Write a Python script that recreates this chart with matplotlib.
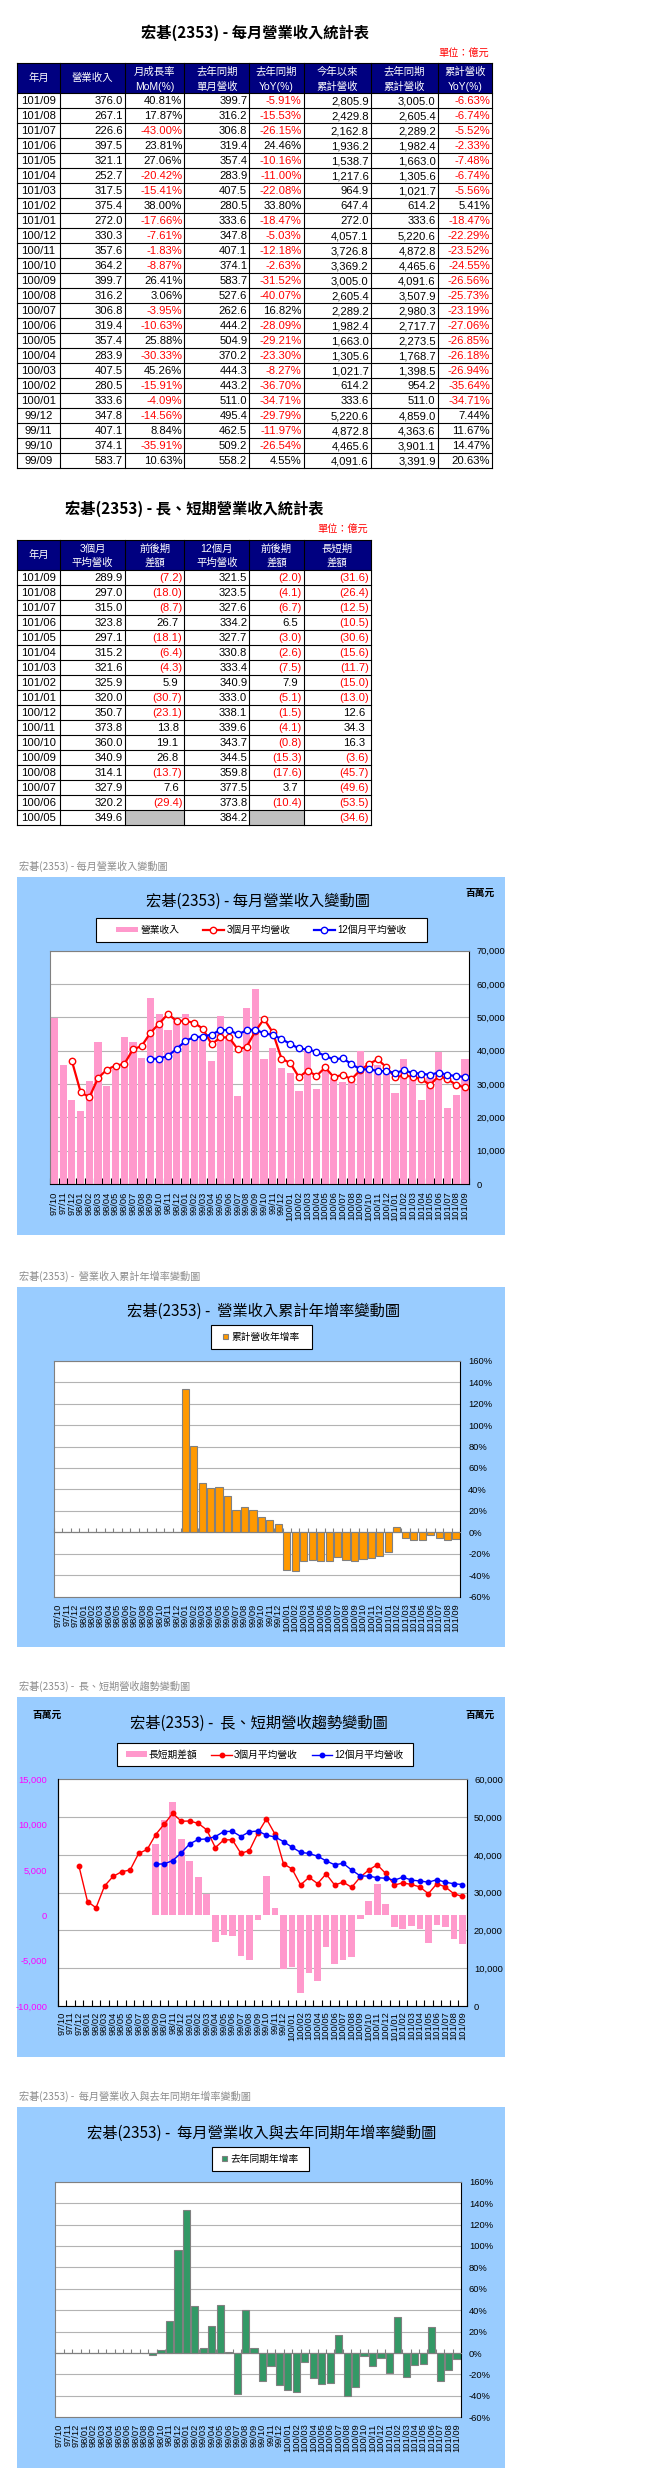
import numpy as np
import matplotlib
matplotlib.use('Agg')
import matplotlib.pyplot as plt
from matplotlib.patches import Rectangle
from matplotlib.ticker import FuncFormatter, MultipleLocator
from matplotlib import font_manager as fm

W, H = 655, 2491

# 字型：數字用窄體，中文退回 Noto Sans CJK TC
_fonts = {f.name for f in fm.fontManager.ttflist}
NARROW = 'Liberation Sans Narrow' if 'Liberation Sans Narrow' in _fonts else 'Liberation Sans'
NS = 1.0 if NARROW == 'Liberation Sans Narrow' else 0.9
XT = 8 if NARROW == 'Liberation Sans Narrow' else 6.7     # 類別軸標籤字級
CJK = 'Noto Sans CJK TC'
FAM = [NARROW, CJK, 'DejaVu Sans']
FAM_CJK = [CJK, 'DejaVu Sans']
plt.rcParams['font.family'] = FAM
plt.rcParams['axes.unicode_minus'] = False

# ---------------- 資料 ----------------
months = [f'{97 + (9 + k) // 12}/{(9 + k) % 12 + 1:02d}' for k in range(48)]   # 97/10 ~ 101/09

# 每月營業收入 (億元) 97/10 ~ 101/09
rev = [499.0, 357.0, 253.0, 219.0, 308.0, 426.0, 295.0, 345.0, 440.0, 426.0, 377.0,
       558.2, 509.2, 462.5, 495.4,
       511.0, 443.2, 444.3, 370.2, 504.9, 444.2, 262.6, 527.6, 583.7, 374.1, 407.1, 347.8,
       333.6, 280.5, 407.5, 283.9, 357.4, 319.4, 306.8, 316.2, 399.7, 364.2, 357.6, 330.3,
       272.0, 375.4, 317.5, 252.7, 321.1, 397.5, 226.6, 267.1, 376.0]

# 3個月平均營收 (億元) 97/12 起
avg3 = [369.7, 276.3, 260.0, 317.7, 343.0, 355.3, 360.0, 403.7, 414.3, 453.7, 481.5,
        510.0, 489.0,
        489.6, 483.2, 466.2, 419.2, 439.8, 439.8, 403.9, 411.5, 458.0, 495.1, 455.0, 376.3,
        362.8, 320.6, 340.5, 324.0, 349.6, 320.2, 327.9, 314.1, 340.9, 360.0, 373.8, 350.7,
        320.0, 325.9, 321.6, 315.2, 297.1, 323.8, 315.0, 297.0, 289.9]

# 12個月平均營收 (億元) 98/09 起
avg12 = [375.3, 376.1, 384.9, 405.1,
         429.4, 440.7, 442.2, 448.5, 461.8, 462.2, 448.6, 461.1, 463.2, 452.0, 447.4, 435.1,
         420.3, 406.7, 403.7, 396.5, 384.2, 373.8, 377.5, 359.8, 344.5, 343.7, 339.6, 338.1,
         333.0, 340.9, 333.4, 330.8, 327.7, 334.2, 327.6, 323.5, 321.5]

# 長短期差額 (億元) 98/09 起
ls_diff = [78.4, 105.4, 125.1, 83.9,
           60.2, 42.5, 24.0, -29.3, -22.0, -22.4, -44.7, -49.6, -5.2, 43.1, 7.6, -58.8,
           -57.5, -86.1, -63.2, -72.5, -34.6, -53.5, -49.6, -45.7, -3.6, 16.3, 34.3, 12.6,
           -13.0, -15.0, -11.7, -15.6, -30.6, -10.5, -12.5, -26.4, -31.6]

# 累計營收年增率 (%)
cum_yoy = [0] * 15 + [
    133.5, 80.8, 46.3, 41.3, 42.6, 33.6, 21.1, 23.3, 20.63, 14.47, 11.67, 7.44,
    -34.71, -35.64, -26.94, -26.18, -26.85, -27.06, -23.19, -25.73, -26.56, -24.55, -23.52, -22.29,
    -18.47, 5.41, -5.56, -6.74, -7.48, -2.33, -5.52, -6.74, -6.63]

# 去年同期年增率 (%)
yoy = [0] * 11 + [
    -1.5, 2.8, 29.9, 96.0,
    133.3, 43.9, 4.7, 25.5, 44.8, 1.2, -38.3, 40.1, 4.55, -26.54, -11.97, -29.79,
    -34.71, -36.70, -8.27, -23.30, -29.21, -28.09, 16.82, -40.07, -31.52, -2.63, -12.18, -5.03,
    -18.47, 33.80, -22.08, -11.00, -10.16, 24.46, -26.15, -15.53, -5.91]

# 表一：每月營業收入統計表
t1_month = ['101/09', '101/08', '101/07', '101/06', '101/05', '101/04', '101/03', '101/02', '101/01',
            '100/12', '100/11', '100/10', '100/09', '100/08', '100/07', '100/06', '100/05', '100/04',
            '100/03', '100/02', '100/01', '99/12', '99/11', '99/10', '99/09']
t1_rev = [376.0, 267.1, 226.6, 397.5, 321.1, 252.7, 317.5, 375.4, 272.0, 330.3, 357.6, 364.2, 399.7,
          316.2, 306.8, 319.4, 357.4, 283.9, 407.5, 280.5, 333.6, 347.8, 407.1, 374.1, 583.7]
t1_mom = [40.81, 17.87, -43.00, 23.81, 27.06, -20.42, -15.41, 38.00, -17.66, -7.61, -1.83, -8.87, 26.41,
          3.06, -3.95, -10.63, 25.88, -30.33, 45.26, -15.91, -4.09, -14.56, 8.84, -35.91, 10.63]
t1_prev = [399.7, 316.2, 306.8, 319.4, 357.4, 283.9, 407.5, 280.5, 333.6, 347.8, 407.1, 374.1, 583.7,
           527.6, 262.6, 444.2, 504.9, 370.2, 444.3, 443.2, 511.0, 495.4, 462.5, 509.2, 558.2]
t1_yoy = [-5.91, -15.53, -26.15, 24.46, -10.16, -11.00, -22.08, 33.80, -18.47, -5.03, -12.18, -2.63, -31.52,
          -40.07, 16.82, -28.09, -29.21, -23.30, -8.27, -36.70, -34.71, -29.79, -11.97, -26.54, 4.55]
t1_cum = [2805.9, 2429.8, 2162.8, 1936.2, 1538.7, 1217.6, 964.9, 647.4, 272.0, 4057.1, 3726.8, 3369.2,
          3005.0, 2605.4, 2289.2, 1982.4, 1663.0, 1305.6, 1021.7, 614.2, 333.6, 5220.6, 4872.8, 4465.6, 4091.6]
t1_prev_cum = [3005.0, 2605.4, 2289.2, 1982.4, 1663.0, 1305.6, 1021.7, 614.2, 333.6, 5220.6, 4872.8, 4465.6,
               4091.6, 3507.9, 2980.3, 2717.7, 2273.5, 1768.7, 1398.5, 954.2, 511.0, 4859.0, 4363.6, 3901.1, 3391.9]
t1_cum_yoy = [-6.63, -6.74, -5.52, -2.33, -7.48, -6.74, -5.56, 5.41, -18.47, -22.29, -23.52, -24.55, -26.56,
              -25.73, -23.19, -27.06, -26.85, -26.18, -26.94, -35.64, -34.71, 7.44, 11.67, 14.47, 20.63]

# 表二：長、短期營業收入統計表
t2_month = t1_month[:17]
t2_avg3 = [289.9, 297.0, 315.0, 323.8, 297.1, 315.2, 321.6, 325.9, 320.0, 350.7, 373.8, 360.0, 340.9,
           314.1, 327.9, 320.2, 349.6]
t2_d3 = [-7.2, -18.0, -8.7, 26.7, -18.1, -6.4, -4.3, 5.9, -30.7, -23.1, 13.8, 19.1, 26.8, -13.7, 7.6, -29.4, None]
t2_avg12 = [321.5, 323.5, 327.6, 334.2, 327.7, 330.8, 333.4, 340.9, 333.0, 338.1, 339.6, 343.7, 344.5,
            359.8, 377.5, 373.8, 384.2]
t2_d12 = [-2.0, -4.1, -6.7, 6.5, -3.0, -2.6, -7.5, 7.9, -5.1, -1.5, -4.1, -0.8, -15.3, -17.6, 3.7, -10.4, None]
t2_ls = [-31.6, -26.4, -12.5, -10.5, -30.6, -15.6, -11.7, -15.0, -13.0, 12.6, 34.3, 16.3, -3.6, -45.7,
         -49.6, -53.5, -34.6]

# ---------------- 樣式 ----------------
NAVY = '#000080'
SKY = '#99CCFF'
PINK = '#FF99CC'
GRID = '#B3B3B3'
CAP_GRAY = '#8C8C8C'

fig = plt.figure(figsize=(W / 100, H / 100), dpi=100)
cv = fig.add_axes([0, 0, 1, 1])
cv.set_xlim(0, W)
cv.set_ylim(H, 0)
cv.axis('off')


def box(x0, y0, x1, y1):
    return [x0 / W, 1 - y1 / H, (x1 - x0) / W, (y1 - y0) / H]


def pct(v):
    return (f'{v:.2f}%', 'red' if v < 0 else 'black', 'r')


def num(v):
    return (f'{v:,.1f}', 'black', 'r')


def paren(v):
    if v is None:
        return None
    if v < 0:
        return ('(%.1f)' % -v, 'red', 'r')
    return (f'{v:,.1f}', 'black', 'p')


def draw_table(top, cols, headers, rows, head_h=30, row_h=15):
    x0, x1 = cols[0], cols[-1]
    cv.add_patch(Rectangle((x0, top), x1 - x0, head_h, fc=NAVY, ec='none'))
    for j, lines in enumerate(headers):
        cx = (cols[j] + cols[j + 1]) / 2
        ys = [top + head_h / 2] if len(lines) == 1 else [top + 8.7, top + 23.2]
        for txt, yy in zip(lines, ys):
            cv.text(cx, yy, txt, color='white', ha='center', va='center', fontsize=7.5)
    y = top + head_h
    for r, row in enumerate(rows):
        yc = y + (r + 0.5) * row_h + 0.6
        for j, cell in enumerate(row):
            if cell is None:
                cv.add_patch(Rectangle((cols[j], y + r * row_h), cols[j + 1] - cols[j], row_h,
                                       fc='#C0C0C0', ec='none'))
                continue
            txt, col, al = cell
            if al == 'c':
                cv.text((cols[j] + cols[j + 1]) / 2, yc, txt, ha='center', va='center',
                        fontsize=9 * NS, color=col)
            else:
                xr = cols[j + 1] - 2 - (3.6 if al == 'p' else 0)
                cv.text(xr, yc, txt, ha='right', va='center', fontsize=9 * NS, color=col)
    bottom = y + len(rows) * row_h
    for xx in cols:
        cv.plot([xx, xx], [top, bottom], color='black', lw=0.8)
    for k in range(len(rows) + 1):
        cv.plot([x0, x1], [y + k * row_h] * 2, color='black', lw=0.8)
    cv.plot([x0, x1], [top, top], color='black', lw=0.8)


COLS = [17.3, 60, 125, 184.3, 249.3, 303.7, 370.7, 437.7, 492]

# 表一
cv.text(255, 33, '宏碁(2353) - 每月營業收入統計表', ha='center', va='center',
        fontsize=11, fontweight='bold', family=FAM_CJK)
cv.text(489, 53, '單位：億元', ha='right', va='center', fontsize=7.3, color='red', family=FAM_CJK)
headers1 = [['年月'], ['營業收入'], ['月成長率', 'MoM(%)'], ['去年同期', '單月營收'], ['去年同期', 'YoY(%)'],
            ['今年以來', '累計營收'], ['去年同期', '累計營收'], ['累計營收', 'YoY(%)']]
rows1 = []
for i in range(len(t1_month)):
    rows1.append([(t1_month[i], 'black', 'c'), num(t1_rev[i]), pct(t1_mom[i]), num(t1_prev[i]),
                  pct(t1_yoy[i]), num(t1_cum[i]), num(t1_prev_cum[i]), pct(t1_cum_yoy[i])])
draw_table(63.3, COLS, headers1, rows1)

# 表二
cv.text(194.2, 508.3, '宏碁(2353) - 長、短期營業收入統計表', ha='center', va='center',
        fontsize=11, fontweight='bold', family=FAM_CJK)
cv.text(368, 529, '單位：億元', ha='right', va='center', fontsize=7.3, color='red', family=FAM_CJK)
headers2 = [['年月'], ['3個月', '平均營收'], ['前後期', '差額'], ['12個月', '平均營收'], ['前後期', '差額'],
            ['長短期', '差額']]
rows2 = []
for i in range(len(t2_month)):
    rows2.append([(t2_month[i], 'black', 'c'), num(t2_avg3[i]), paren(t2_d3[i]), num(t2_avg12[i]),
                  paren(t2_d12[i]), paren(t2_ls[i])])
draw_table(540, COLS[:7], headers2, rows2)


# ---------------- 圖表共用 ----------------
def panel(cap, y_cap, y0, y1, title, title_x, title_y):
    cv.text(19, y_cap, cap, ha='left', va='center', fontsize=7.3, color=CAP_GRAY, family=FAM_CJK)
    cv.add_patch(Rectangle((16.7, y0), 505 - 16.7, y1 - y0, fc=SKY, ec='none'))
    cv.text(title_x, title_y, title, ha='center', va='center', fontsize=11, family=FAM_CJK)


def legend_box(handles, labels, bx, ncol, **kw):
    x0, y0, x1, y1 = bx
    cv.add_patch(Rectangle((x0, y0), x1 - x0, y1 - y0, fc='white', ec='black', lw=0.8, zorder=3))
    fig.legend(handles, labels, loc='center', bbox_to_anchor=((x0 + x1) / 2 / W, 1 - (y0 + y1) / 2 / H),
               ncol=ncol, frameon=False, prop={'family': FAM, 'size': 7}, borderpad=0,
               borderaxespad=0, **kw)


def cat_ticks(ax, pad_px, color='black'):
    ax.set_xlim(-0.5, 47.5)
    ax.set_xticks(np.arange(-0.5, 48, 1))
    ax.set_xticks(x, months, minor=True, rotation=90, fontsize=XT)
    ax.tick_params(axis='x', which='major', direction='in', length=4, width=0.8, color=color,
                   labelbottom=False)
    ax.tick_params(axis='x', which='minor', length=0, pad=pad_px * 0.72)


comma = FuncFormatter(lambda v, p: f'{v:,.0f}')
percent = FuncFormatter(lambda v, p: f'{v:.0f}%')
x = np.arange(len(months))
rev_m = np.array(rev) * 100          # 百萬元
avg3_m = np.array(avg3) * 100
avg12_m = np.array(avg12) * 100
diff_m = np.array(ls_diff) * 100

# ---------------- 圖一：每月營業收入變動圖 ----------------
panel('宏碁(2353) - 每月營業收入變動圖', 866.7, 876.7, 1235,
      '宏碁(2353) - 每月營業收入變動圖', 258, 901.7)
cv.text(495, 893, '百萬元', ha='right', va='center', fontsize=7, fontweight='bold', family=FAM_CJK)
ax1 = fig.add_axes(box(50, 950.7, 469.3, 1184))
b1 = ax1.bar(x, rev_m, width=0.82, color=PINK, zorder=2)
l1, = ax1.plot(x[2:], avg3_m, color='red', lw=1.6, marker='o', ms=4.6, mfc='white', mec='red',
               mew=1.0, zorder=3)
l2, = ax1.plot(x[11:], avg12_m, color='blue', lw=1.6, marker='o', ms=4.6, mfc='white', mec='blue',
               mew=1.0, zorder=3)
ax1.set_ylim(0, 70000)
ax1.yaxis.set_major_locator(MultipleLocator(10000))
ax1.yaxis.set_major_formatter(comma)
ax1.yaxis.tick_right()
ax1.tick_params(axis='y', length=0, pad=5.3, labelsize=7.5 * NS)
ax1.grid(axis='y', color=GRID, lw=0.8)
ax1.set_axisbelow(True)
cat_ticks(ax1, 7.7)
for s in ('top', 'left'):
    ax1.spines[s].set_color('#808080')
legend_box([b1, l1, l2], ['營業收入', '3個月平均營收', '12個月平均營收'], (96, 918, 427, 941.7), 3,
           handlelength=2.2, handleheight=0.5, handletextpad=0.25, columnspacing=2.4)


# ---------------- 圖二、圖四：年增率長條圖 ----------------
def pct_chart(plot_px, values, color, label, legend_px, label_pad_px, ytick_pad_px):
    ax = fig.add_axes(box(*plot_px))
    bars = ax.bar(x, values, width=0.85, color=color, edgecolor='#808080', linewidth=0.8, zorder=2)
    ax.set_xlim(-0.5, 47.5)
    ax.set_ylim(-60, 160)
    ax.yaxis.set_major_locator(MultipleLocator(20))
    ax.yaxis.set_major_formatter(percent)
    ax.yaxis.tick_right()
    ax.tick_params(axis='y', length=0, pad=ytick_pad_px * 0.72, labelsize=7.5 * NS)
    ax.grid(axis='y', color=GRID, lw=0.8)
    ax.set_axisbelow(True)
    ax.spines['bottom'].set_position(('data', 0))
    ax.spines['bottom'].set_color('#808080')
    ax.set_xticks(np.arange(-0.5, 48, 1))
    ax.tick_params(axis='x', direction='in', length=3, width=0.8, color='#808080', labelbottom=False)
    sec = ax.secondary_xaxis('bottom')
    sec.set_xticks(x, months, rotation=90, fontsize=XT)
    sec.tick_params(length=0, pad=label_pad_px * 0.72)
    sec.spines['bottom'].set_color('#808080')
    for s in ('top', 'left'):
        ax.spines[s].set_color('#808080')
    legend_box([bars], [label], legend_px, 1, handlelength=0.5, handleheight=0.5, handletextpad=0.3)
    return ax


panel('宏碁(2353) -  營業收入累計年增率變動圖', 1276.7, 1286.7, 1646.7,
      '宏碁(2353) -  營業收入累計年增率變動圖', 263.3, 1311.7)
pct_chart((54, 1360.7, 460.3, 1596.7), cum_yoy, '#FF9900', '累計營收年增率',
          (211, 1325, 311.7, 1349.3), 6.6, 8)

# ---------------- 圖三：長、短期營收趨勢變動圖 ----------------
panel('宏碁(2353) -  長、短期營收趨勢變動圖', 1686.7, 1696.7, 2056.7,
      '宏碁(2353) -  長、短期營收趨勢變動圖', 259, 1723.3)
cv.text(32, 1715, '百萬元', ha='left', va='center', fontsize=7, fontweight='bold', family=FAM_CJK)
cv.text(495, 1715, '百萬元', ha='right', va='center', fontsize=7, fontweight='bold', family=FAM_CJK)
base = fig.add_axes(box(57.7, 1779.3, 466.7, 2006))
axb = base.twinx()
axl = base.twinx()
base.yaxis.tick_right()
axb.yaxis.tick_left()
base.set_ylim(0, 60000)
base.yaxis.set_major_locator(MultipleLocator(10000))
base.yaxis.set_major_formatter(comma)
base.tick_params(axis='y', length=0, pad=5.3, labelsize=7.5 * NS)
base.grid(axis='y', color=GRID, lw=0.8)
cat_ticks(base, 5.7)
base.spines['top'].set_color('#808080')
b3 = axb.bar(x[11:], diff_m, width=0.78, color=PINK)
axb.set_ylim(-10000, 15000)
axb.yaxis.set_major_locator(MultipleLocator(5000))
axb.yaxis.set_major_formatter(comma)
axb.tick_params(axis='y', length=0, pad=7.5, labelsize=7.5 * NS, labelcolor='#FF00FF')
for s in ('top', 'right', 'bottom'):
    axb.spines[s].set_visible(False)
r3, = axl.plot(x[2:], avg3_m, color='red', lw=1.0, marker='o', ms=3.2, mec='red', mfc='red')
bl3, = axl.plot(x[11:], avg12_m, color='blue', lw=1.0, marker='o', ms=3.2, mec='blue', mfc='blue')
axl.set_ylim(0, 60000)
axl.set_yticks([])
for s in axl.spines.values():
    s.set_visible(False)
legend_box([b3, r3, bl3], ['長短期差額', '3個月平均營收', '12個月平均營收'], (116.7, 1743.3, 412.7, 1766), 3,
           handlelength=2.1, handleheight=0.5, handletextpad=0.2, columnspacing=1.45)

# ---------------- 圖四：每月營業收入與去年同期年增率變動圖 ----------------
panel('宏碁(2353) -  每月營業收入與去年同期年增率變動圖', 2096.7, 2106.7, 2467.7,
      '宏碁(2353) -  每月營業收入與去年同期年增率變動圖', 261.2, 2133.3)
pct_chart((55.3, 2181.7, 461.3, 2417.3), yoy, '#339966', '去年同期年增率',
          (211.7, 2147.3, 309.3, 2170.7), 6, 7.7)

fig.savefig('out.png', dpi=100)
